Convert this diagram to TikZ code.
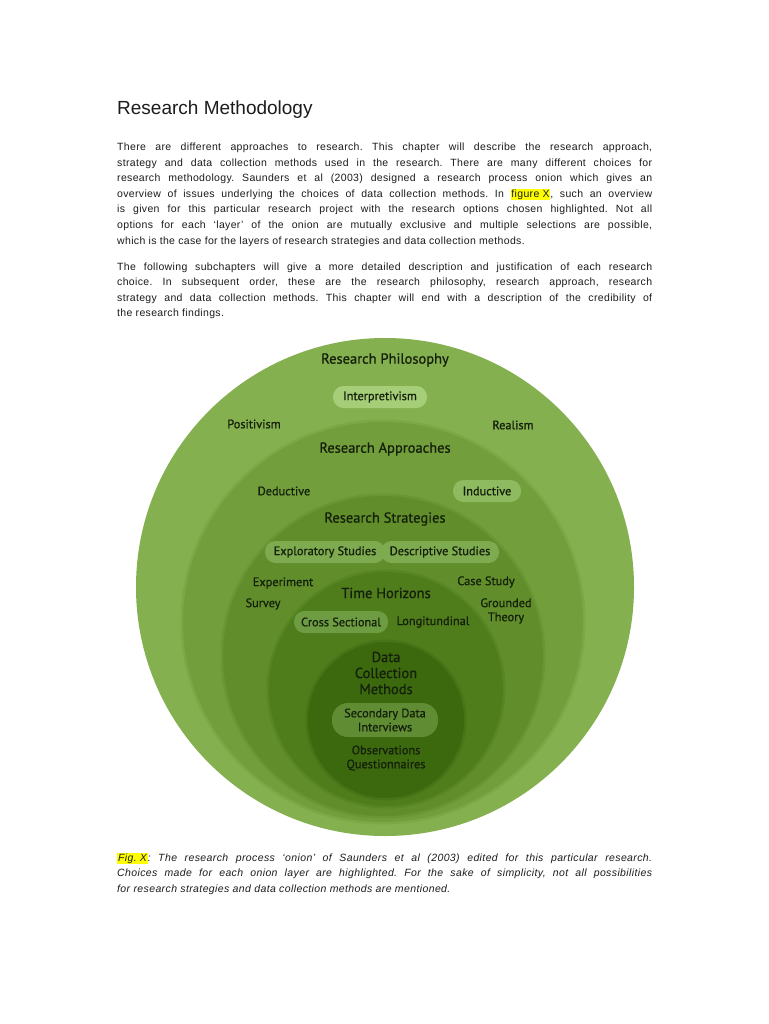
\documentclass[tikz,border=0pt]{standalone}
\usepackage{fontspec}
\setmainfont{Liberation Sans}
\newfontfamily\onionfont[FakeBold=0.8]{PT Sans}
\frenchspacing
\definecolor{ringA}{RGB}{132,176,79}
\definecolor{ringB}{RGB}{114,158,60}
\definecolor{ringC}{RGB}{97,142,43}
\definecolor{ringD}{RGB}{80,125,28}
\definecolor{ringE}{RGB}{60,105,14}
\definecolor{pillA}{RGB}{166,205,120}
\definecolor{pillB}{RGB}{142,186,96}
\definecolor{pillC}{RGB}{126,170,80}
\definecolor{pillD}{RGB}{110,156,66}
\definecolor{pillE}{RGB}{96,141,52}
\definecolor{ink}{RGB}{20,32,10}
\definecolor{bodytext}{RGB}{28,28,28}
\definecolor{hilite}{RGB}{255,255,0}
\newcommand\jline[1]{\makebox[535pt][s]{#1}}
\newcommand\hlt[1]{{\setlength\fboxsep{0.8pt}\colorbox{hilite}{#1}}}
\begin{document}
\begin{tikzpicture}[x=1pt,y=-1pt,
  bodyline/.style={anchor=base west, inner sep=0, font=\fontsize{10.5}{12}\selectfont\addfontfeature{LetterSpace=3.2}, text=bodytext},
  capline/.style={anchor=base west, inner sep=0, font=\fontsize{10.5}{12}\selectfont\itshape\addfontfeature{LetterSpace=3.7}, text=bodytext},
  head/.style={inner sep=0, font=\onionfont\fontsize{14.5}{16}\selectfont, text=ink, align=center},
  item/.style={inner sep=0, font=\onionfont\fontsize{12.3}{14}\selectfont, text=ink, align=center},
  pill/.style={item, rounded corners=10.5pt, minimum height=22pt}]
\useasboundingbox (0,0) rectangle (768,1024);
\fill[white] (0,0) rectangle (768,1024);

\node[anchor=base west, inner sep=0, font=\fontsize{19}{22}\selectfont, text=bodytext] (title) at (117,115) {Research Methodology};

\node[bodyline] (p1) at (117,151) {\jline{There are different approaches to research. This chapter will describe the research approach,}};
\node[bodyline] (p2) at (117,166.5) {\jline{strategy and data collection methods used in the research. There are many different choices for}};
\node[bodyline] (p3) at (117,182) {\jline{research methodology. Saunders et al (2003) designed a research process onion which gives an}};
\node[bodyline] (p4) at (117,197.5) {\jline{overview of issues underlying the choices of data collection methods. In \hlt{figure X}, such an overview}};
\node[bodyline] (p5) at (117,213) {\jline{is given for this particular research project with the research options chosen highlighted. Not all}};
\node[bodyline] (p6) at (117,228.5) {\jline{options for each ‘layer’ of the onion are mutually exclusive and multiple selections are possible,}};
\node[bodyline] (p7) at (117,244) {which is the case for the layers of research strategies and data collection methods.};

\node[bodyline] (q1) at (117,270) {\jline{The following subchapters will give a more detailed description and justification of each research}};
\node[bodyline] (q2) at (117,285.5) {\jline{choice. In subsequent order, these are the research philosophy, research approach, research}};
\node[bodyline] (q3) at (117,301) {\jline{strategy and data collection methods. This chapter will end with a description of the credibility of}};
\node[bodyline] (q4) at (117,316.5) {the research findings.};

% onion
\fill[ringA] (385,587) circle[radius=249pt];
\fill[ringA!55!ringB] (383,622) circle[radius=202.5pt];
\fill[ringB] (383,622) circle[radius=200pt];
\fill[ringB!55!ringC] (383,656) circle[radius=162.5pt];
\fill[ringC] (383,656) circle[radius=160pt];
\fill[ringC!55!ringD] (386,689) circle[radius=119.5pt];
\fill[ringD] (386,689) circle[radius=117pt];
\fill[ringD!55!ringE] (386,720) circle[radius=80.5pt];
\fill[ringE] (386,720) circle[radius=78pt];

\node[head] (rp) at (385,360) {Research Philosophy};
\node[pill, fill=pillA, minimum width=94pt] (interp) at (380,397) {Interpretivism};
\node[item] (posit) at (254,424) {Positivism};
\node[item] (real) at (513,425) {Realism};

\node[head] (ra) at (385,449) {Research Approaches};
\node[item] (deduct) at (284,491) {Deductive};
\node[pill, fill=pillB, minimum width=68pt] (induct) at (487,491) {Inductive};

\node[head] (rs) at (385,519) {Research Strategies};
\node[pill, fill=pillC, minimum width=120pt] (explor) at (325,552) {Exploratory Studies};
\node[pill, fill=pillC, minimum width=118pt] (descr) at (440,552) {Descriptive Studies};
\node[item] (exper) at (283,583) {Experiment};
\node[item] (survey) at (263,604) {Survey};
\node[item] (case) at (486,582) {Case Study};
\node[item] (ground) at (506,611) {Grounded\\Theory};

\node[head] (th) at (386,593) {Time Horizons};
\node[pill, fill=pillD, minimum width=94pt] (cross) at (341,622) {Cross Sectional};
\node[item] (longi) at (433,622) {Longitundinal};

\node[head] (dcm) at (386,673) {Data\\Collection\\Methods};
\node[pill, fill=pillE, minimum width=106pt, minimum height=34pt, rounded corners=16pt] (second) at (385,720) {Secondary Data\\Interviews};
\node[item] (obs) at (386,758) {Observations\\Questionnaires};

% caption
\node[capline] (c1) at (117,861) {\jline{\hlt{Fig. X}: The research process ‘onion’ of Saunders et al (2003) edited for this particular research.}};
\node[capline] (c2) at (117,876.5) {\jline{Choices made for each onion layer are highlighted. For the sake of simplicity, not all possibilities}};
\node[capline] (c3) at (117,892) {for research strategies and data collection methods are mentioned.};
\end{tikzpicture}
\end{document}
